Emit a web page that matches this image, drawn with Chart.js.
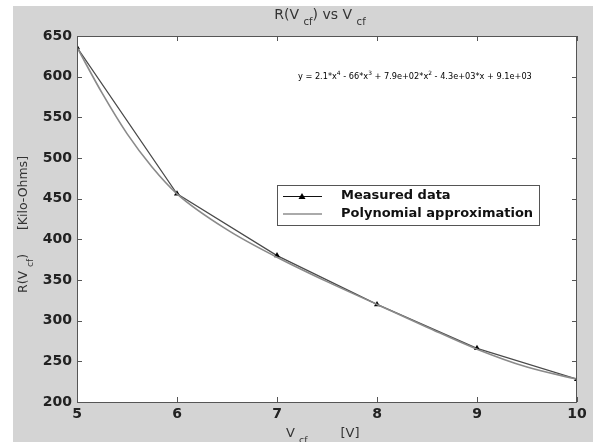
<!DOCTYPE html>
<html>
<head>
<meta charset="utf-8">
<script src="https://cdn.jsdelivr.net/npm/chart.js@4"></script>
<style>
  html,body{margin:0;padding:0;background:#fff;}
  #wrap{width:593px;height:442px;}
</style>
</head>
<body>
<div id="wrap"><canvas id="c" width="593" height="442"></canvas></div>
<script>
// ---- data ----
const vcf = [5, 6, 7, 8, 9, 10];
const measured = [636, 456, 380, 320, 266, 228];
const polyX = [5, 5.25, 5.5, 5.75, 6, 6.5, 7, 7.5, 8, 8.5, 9, 9.5, 10];
const polyY = [636, 580, 530, 489, 456, 412, 378, 348, 320, 292, 265, 243, 228];
const xTicks = [5, 6, 7, 8, 9, 10];
const yTicks = [200, 250, 300, 350, 400, 450, 500, 550, 600, 650];
const seriesNames = ['Measured data', 'Polynomial approximation'];
const equation = [
  {t:'y = 2.1*x'},{t:'4',sup:1},{t:' - 66*x'},{t:'3',sup:1},{t:' + 7.9e+02*x'},{t:'2',sup:1},{t:' - 4.3e+03*x + 9.1e+03'}
];

const FONT = '"DejaVu Sans", "Liberation Sans", Arial, sans-serif';

function drawRich(ctx, segs, x, y, size, opts) {
  opts = opts || {};
  const weight = opts.weight || 'normal';
  const small = size * 0.72;
  let w = 0;
  segs.forEach(s => {
    ctx.font = weight + ' ' + ((s.sub || s.sup) ? small : size) + 'px ' + FONT;
    s._w = ctx.measureText(s.t).width;
    w += s._w;
  });
  let cx = x;
  if (opts.align === 'center') cx = x - w / 2;
  ctx.textAlign = 'left';
  ctx.textBaseline = 'alphabetic';
  segs.forEach(s => {
    ctx.font = weight + ' ' + ((s.sub || s.sup) ? small : size) + 'px ' + FONT;
    let dy = 0;
    if (s.sub) dy = size * 0.45;
    if (s.sup) dy = -size * 0.45;
    ctx.fillText(s.t, cx, y + dy);
    cx += s._w;
  });
  return w;
}

const decor = {
  id: 'decor',
  beforeDraw(chart) {
    const ctx = chart.ctx;
    const a = chart.chartArea;
    ctx.save();
    ctx.fillStyle = '#ffffff';
    ctx.fillRect(0, 0, chart.width, chart.height);
    ctx.fillStyle = '#d4d4d4';
    ctx.fillRect(13, 6, chart.width - 13, chart.height - 6);
    ctx.fillStyle = '#ffffff';
    ctx.fillRect(a.left, a.top, a.right - a.left, a.bottom - a.top);
    ctx.restore();
  },
  afterDraw(chart) {
    const ctx = chart.ctx;
    const a = chart.chartArea;
    const xs = chart.scales.x, ys = chart.scales.y;
    ctx.save();
    // frame
    ctx.strokeStyle = '#555';
    ctx.lineWidth = 1;
    ctx.strokeRect(a.left + 0.5, a.top + 0.5, a.right - a.left - 1, a.bottom - a.top);
    // inward ticks
    const tl = 5;
    ctx.beginPath();
    xTicks.forEach(v => {
      const px = Math.round(xs.getPixelForValue(v)) + 0.5;
      ctx.moveTo(px, a.bottom); ctx.lineTo(px, a.bottom - tl);
      ctx.moveTo(px, a.top); ctx.lineTo(px, a.top + tl);
    });
    yTicks.forEach(v => {
      const py = Math.round(ys.getPixelForValue(v)) + 0.5;
      ctx.moveTo(a.left, py); ctx.lineTo(a.left + tl, py);
      ctx.moveTo(a.right, py); ctx.lineTo(a.right - tl, py);
    });
    ctx.stroke();

    ctx.fillStyle = '#333';
    // title
    drawRich(ctx, [{t:'R(V '},{t:'cf',sub:1},{t:') vs V '},{t:'cf',sub:1}], 320, 19, 14, {align:'center'});
    // x title
    drawRich(ctx, [{t:'V '},{t:'cf',sub:1},{t:'        [V]'}], 286, 437, 13);
    // y title (rotated)
    ctx.save();
    ctx.translate(27, 293);
    ctx.rotate(-Math.PI / 2);
    drawRich(ctx, [{t:'R(V '},{t:'cf',sub:1},{t:')      [Kilo-Ohms]'}], 0, 0, 12.5);
    ctx.restore();

    // equation
    ctx.fillStyle = '#000';
    drawRich(ctx, equation, 298, 79, 8.2, {weight:'normal'});

    // legend
    const lx = 277, ly = 185, lw = 262, lh = 40;
    ctx.fillStyle = '#fff';
    ctx.fillRect(lx, ly, lw, lh);
    ctx.strokeStyle = '#555';
    ctx.lineWidth = 1;
    ctx.strokeRect(lx + 0.5, ly + 0.5, lw, lh);
    // row 1
    ctx.strokeStyle = '#111';
    ctx.lineWidth = 1;
    ctx.beginPath(); ctx.moveTo(283, 196.5); ctx.lineTo(322, 196.5); ctx.stroke();
    ctx.fillStyle = '#000';
    ctx.beginPath(); ctx.moveTo(302, 193); ctx.lineTo(305.5, 199); ctx.lineTo(298.5, 199); ctx.closePath(); ctx.fill();
    // row 2
    ctx.strokeStyle = '#aaa';
    ctx.lineWidth = 2;
    ctx.beginPath(); ctx.moveTo(283, 214); ctx.lineTo(322, 214); ctx.stroke();
    ctx.fillStyle = '#111';
    ctx.font = 'bold 13px ' + FONT;
    ctx.textAlign = 'left';
    ctx.textBaseline = 'middle';
    ctx.fillText(seriesNames[0], 341, 196);
    ctx.fillText(seriesNames[1], 341, 214);
    ctx.restore();
  }
};

const tickFont = { family: FONT, size: 14, weight: 'bold' };

new Chart(document.getElementById('c'), {
  type: 'line',
  data: {
    datasets: [
      {
        label: seriesNames[1],
        data: polyX.map((x, i) => ({ x, y: polyY[i] })),
        borderColor: '#8a8a8a',
        borderWidth: 1.6,
        pointRadius: 0,
        cubicInterpolationMode: 'monotone',
        fill: false
      },
      {
        label: seriesNames[0],
        data: vcf.map((x, i) => ({ x, y: measured[i] })),
        borderColor: '#4a4a4a',
        borderWidth: 1.2,
        pointStyle: 'triangle',
        pointRadius: 3.5,
        pointBackgroundColor: '#000',
        pointBorderColor: '#000',
        pointBorderWidth: 0,
        tension: 0,
        fill: false
      }
    ]
  },
  options: {
    responsive: false,
    animation: false,
    devicePixelRatio: 1,
    layout: { padding: { left: 0, top: 36, right: 16, bottom: 0 } },
    plugins: { legend: { display: false }, tooltip: { enabled: false }, title: { display: false } },
    scales: {
      x: {
        type: 'linear', min: 5, max: 10,
        grid: { display: false, drawTicks: false }, border: { display: false },
        afterBuildTicks: s => { s.ticks = xTicks.map(v => ({ value: v })); },
        afterFit: s => { s.height = 40; },
        ticks: { font: tickFont, color: '#222', padding: 4, maxRotation: 0, autoSkip: false }
      },
      y: {
        type: 'linear', min: 200, max: 650,
        grid: { display: false, drawTicks: false }, border: { display: false },
        afterBuildTicks: s => { s.ticks = yTicks.map(v => ({ value: v })); },
        afterFit: s => { s.width = 77; },
        ticks: { font: tickFont, color: '#222', padding: 5, autoSkip: false }
      }
    }
  },
  plugins: [decor]
});
</script>
</body>
</html>
